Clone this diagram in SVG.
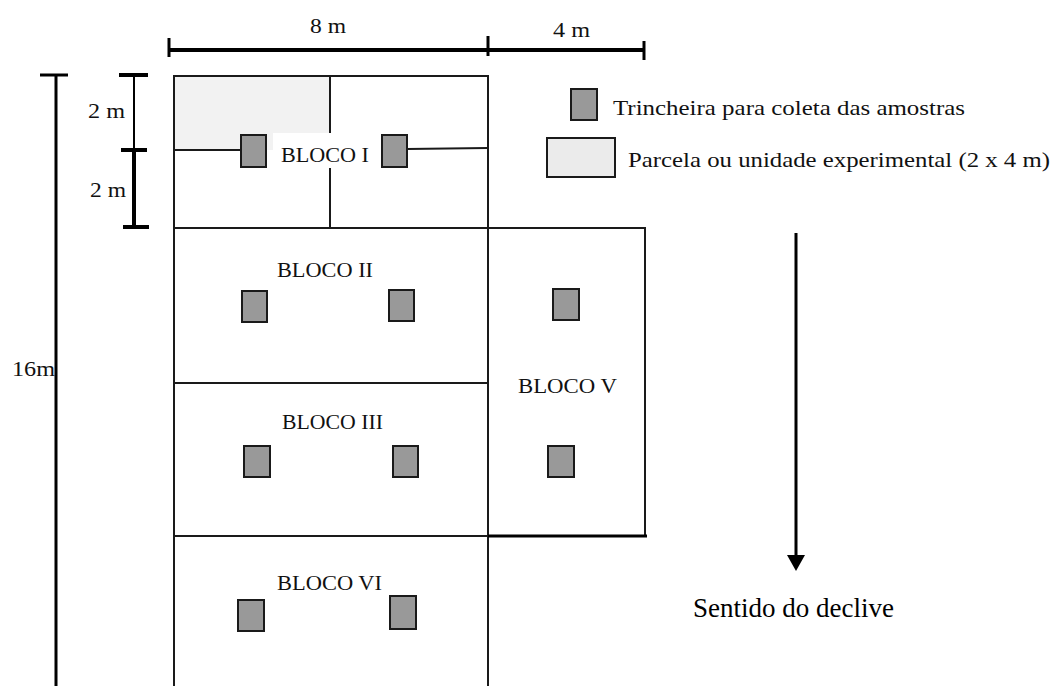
<svg xmlns="http://www.w3.org/2000/svg" width="1053" height="686" viewBox="0 0 1053 686">
<style>
.ln{stroke:#1a1a1a;stroke-width:2;fill:none}
.bd{stroke:#000;fill:none}
.tr{fill:#999;stroke:#1a1a1a;stroke-width:2}
.lb{font-family:"Liberation Serif","Times New Roman",serif;font-size:22px;fill:#111}
.bg{fill:#fff}
</style>
<rect width="1053" height="686" fill="#fff"/>

<g id="dimensions">
  <line class="bd" x1="168" y1="50" x2="645" y2="50" stroke-width="4"/>
  <line class="bd" x1="169" y1="38" x2="169" y2="57" stroke-width="3"/>
  <line class="bd" x1="488" y1="36" x2="488" y2="56" stroke-width="3"/>
  <line class="bd" x1="644" y1="41" x2="644" y2="60" stroke-width="3"/>
  <text class="lb" x="310" y="33" textLength="36" lengthAdjust="spacingAndGlyphs">8 m</text>
  <text class="lb" x="553" y="37" textLength="37" lengthAdjust="spacingAndGlyphs">4 m</text>
  <line class="bd" x1="134" y1="75" x2="134" y2="150" stroke-width="2"/>
  <line class="bd" x1="134" y1="150" x2="134" y2="228" stroke-width="4"/>
  <line class="bd" x1="119" y1="75" x2="148" y2="75" stroke-width="4"/>
  <line class="bd" x1="121" y1="150" x2="147" y2="150" stroke-width="4"/>
  <line class="bd" x1="123" y1="227" x2="149" y2="227" stroke-width="4"/>
  <text class="lb" x="88" y="118" textLength="37" lengthAdjust="spacingAndGlyphs">2 m</text>
  <text class="lb" x="90" y="197" textLength="36" lengthAdjust="spacingAndGlyphs">2 m</text>
  <line class="bd" x1="56" y1="75" x2="56" y2="686" stroke-width="3"/>
  <line class="bd" x1="40" y1="75" x2="68" y2="75" stroke-width="3"/>
  <text class="lb" x="12" y="376" textLength="43" lengthAdjust="spacingAndGlyphs">16m</text>
</g>

<g id="bloco-i">
  <rect x="174" y="76" width="156" height="74" fill="#f2f2f2"/>
  <rect class="ln" x="174" y="76" width="314" height="152"/>
  <line class="ln" x1="330" y1="76" x2="330" y2="228"/>
  <line class="ln" x1="174" y1="150" x2="241" y2="150"/>
  <line class="ln" x1="407" y1="149" x2="488" y2="148"/>
  <rect class="bg" x="273" y="133" width="104" height="35"/>
  <text class="lb" x="281" y="162" textLength="88" lengthAdjust="spacingAndGlyphs">BLOCO I</text>
  <rect class="tr" x="241" y="135" width="25" height="32"/>
  <rect class="tr" x="382" y="135" width="25" height="32"/>
</g>

<g id="bloco-ii">
  <rect class="ln" x="174" y="228" width="314" height="155"/>
  <rect class="bg" x="268" y="246" width="115" height="37"/>
  <text class="lb" x="277" y="277" textLength="96" lengthAdjust="spacingAndGlyphs">BLOCO II</text>
  <rect class="tr" x="242" y="291" width="25" height="31"/>
  <rect class="tr" x="389" y="290" width="25" height="31"/>
</g>

<g id="bloco-iii">
  <rect class="ln" x="174" y="383" width="314" height="153"/>
  <rect class="bg" x="270" y="398" width="126" height="40"/>
  <text class="lb" x="282" y="429" textLength="101" lengthAdjust="spacingAndGlyphs">BLOCO III</text>
  <rect class="tr" x="244" y="446" width="26" height="31"/>
  <rect class="tr" x="393" y="446" width="25" height="31"/>
</g>

<g id="bloco-vi">
  <path class="ln" d="M174,686 V536 H488 V686"/>
  <rect class="bg" x="268" y="560" width="126" height="33"/>
  <text class="lb" x="277" y="590" textLength="105" lengthAdjust="spacingAndGlyphs">BLOCO VI</text>
  <rect class="tr" x="238" y="600" width="26" height="31"/>
  <rect class="tr" x="390" y="596" width="26" height="33"/>
</g>

<g id="bloco-v">
  <rect class="ln" x="488" y="228" width="157" height="308"/>
  <line class="bd" x1="488" y1="536" x2="647" y2="536" stroke-width="3"/>
  <rect class="bg" x="509" y="366" width="115" height="34"/>
  <text class="lb" x="518" y="393" textLength="99" lengthAdjust="spacingAndGlyphs">BLOCO V</text>
  <rect class="tr" x="553" y="289" width="26" height="31"/>
  <rect class="tr" x="548" y="446" width="26" height="31"/>
</g>

<g id="legend">
  <rect class="tr" x="571" y="89" width="26" height="31"/>
  <text class="lb" x="613" y="115" textLength="352" lengthAdjust="spacingAndGlyphs">Trincheira para coleta das amostras</text>
  <rect x="547" y="138" width="68" height="39" fill="#ebebeb" stroke="#1a1a1a" stroke-width="2"/>
  <text class="lb" x="628" y="167" textLength="422" lengthAdjust="spacingAndGlyphs">Parcela ou unidade experimental (2 x 4 m)</text>
</g>

<g id="connectors">
  <line x1="796" y1="233" x2="796" y2="556" stroke="#000" stroke-width="3"/>
  <polygon points="787,555 805,555 796,571" fill="#000"/>
</g>

<g id="slope-label">
  <text x="693" y="617" font-family="'Liberation Serif','Times New Roman',serif" font-size="27" fill="#000">Sentido do declive</text>
</g>
</svg>
